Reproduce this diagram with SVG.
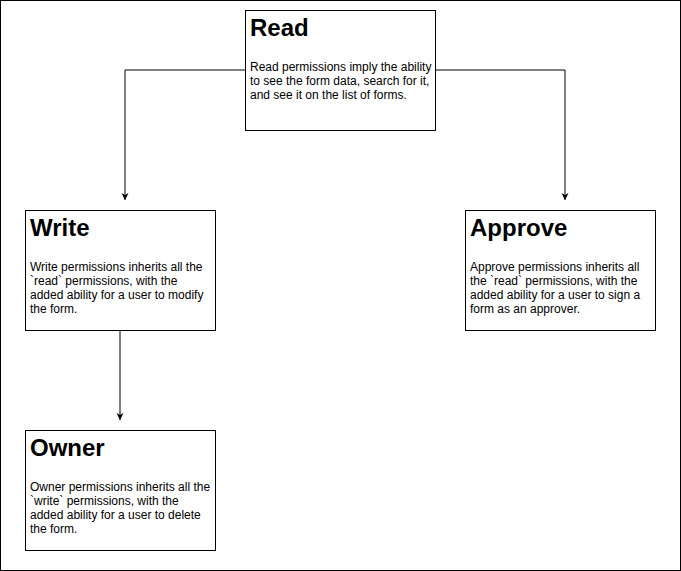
<svg xmlns="http://www.w3.org/2000/svg" width="681" height="571" viewBox="0 0 681 571">
<style>
.box{fill:#fff;stroke:#000;stroke-width:1}
.t{font-family:"Liberation Sans",Arial,sans-serif;font-weight:bold;font-size:24px;fill:#000}
.b{font-family:"Liberation Sans",Arial,sans-serif;font-size:12px;fill:#000}
.c{fill:none;stroke:#000;stroke-width:1}
</style>
<defs><marker id="a" markerWidth="8" markerHeight="8" refX="7" refY="4" orient="auto" markerUnits="userSpaceOnUse"><path d="M0,0.5 L7,4 L0,7.5 L2,4 Z" fill="#000"/></marker></defs>
<rect x="0.5" y="0.5" width="680" height="570" fill="#fff" stroke="#000"/>
<g id="connectors">
<path class="c" d="M245,70 H125 V200" marker-end="url(#a)"/>
<path class="c" d="M435,70 H565 V200" marker-end="url(#a)"/>
<path class="c" d="M120,330 V420" marker-end="url(#a)"/>
</g>
<g id="read"><rect class="box" x="245.5" y="10.5" width="190" height="120"/>
<text class="t" x="250" y="36">Read</text>
<text class="b"><tspan x="250" y="71">Read permissions imply the ability</tspan><tspan x="250" y="85">to see the form data, search for it,</tspan><tspan x="250" y="99">and see it on the list of forms.</tspan></text></g>
<g id="write"><rect class="box" x="25.5" y="210.5" width="190" height="120"/>
<text class="t" x="30" y="236">Write</text>
<text class="b"><tspan x="30" y="271">Write permissions inherits all the</tspan><tspan x="30" y="285">`read` permissions, with the</tspan><tspan x="30" y="299">added ability for a user to modify</tspan><tspan x="30" y="313">the form.</tspan></text></g>
<g id="approve"><rect class="box" x="465.5" y="210.5" width="190" height="120"/>
<text class="t" x="470" y="236">Approve</text>
<text class="b"><tspan x="470" y="271">Approve permissions inherits all</tspan><tspan x="470" y="285">the `read` permissions, with the</tspan><tspan x="470" y="299">added ability for a user to sign a</tspan><tspan x="470" y="313">form as an approver.</tspan></text></g>
<g id="owner"><rect class="box" x="25.5" y="430.5" width="190" height="120"/>
<text class="t" x="30" y="456">Owner</text>
<text class="b"><tspan x="30" y="491">Owner permissions inherits all the</tspan><tspan x="30" y="505">`write` permissions, with the</tspan><tspan x="30" y="519">added ability for a user to delete</tspan><tspan x="30" y="533">the form.</tspan></text></g>
</svg>
